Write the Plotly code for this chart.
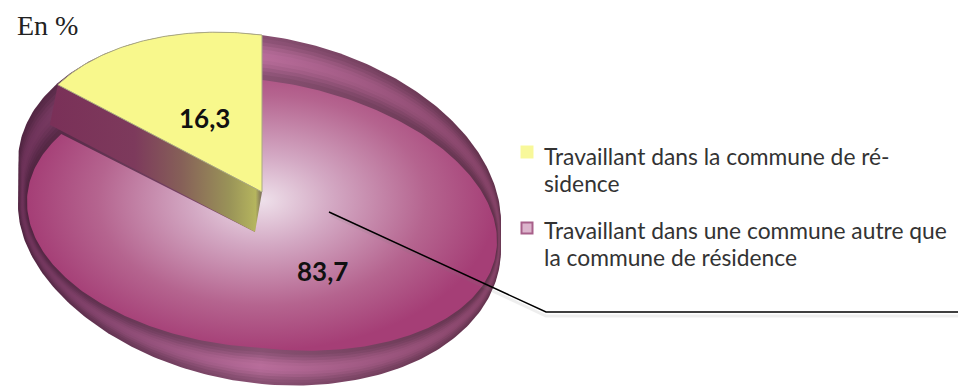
import numpy as np
import plotly.graph_objects as go

# ---- data ----
categories = ["Travaillant dans la commune de ré-<br>sidence",
              "Travaillant dans une commune autre que<br>la commune de résidence"]
values = [16.3, 83.7]
unit_label = "En %"
slice_colors = ["#f8f88c", "#a8447c"]

# ---- projection of the tilted disc onto the page (pixel scale) ----
W, H = 958, 386
CX, CY, UX, UY, VY = 262, 192, 239, 30, 157      # yellow rim
BASE_CY, BASE_UY = 227, 22                        # lower edge of the side wall
FCY, FUX, FVY = 214, 235, 134                     # purple face
FUY_RIGHT, FUY_LEFT = 27, 12                      # perspective skew of the face
WALL = (-7, 40)                                   # cut wall offset
yellow_deg = values[0] / sum(values) * 360


def rim(phi):
    p = np.radians(phi)
    return CX + UX * np.sin(p), CY + UY * np.sin(p) - VY * np.cos(p)


def base(phi):
    p = np.radians(phi)
    return CX + UX * np.sin(p), BASE_CY + BASE_UY * np.sin(p) - VY * np.cos(p)


def face(phi):
    p = np.radians(phi)
    s = np.sin(p)
    return CX + FUX * s, FCY + np.where(s > 0, FUY_RIGHT, FUY_LEFT) * s - FVY * np.cos(p)


def hex2(c):
    return "rgb(%d,%d,%d)" % tuple(int(max(0, min(255, v))) for v in c)


fig = go.Figure()


def poly(x, y, **kw):
    fig.add_trace(go.Scatter(x=list(x), y=list(y), mode="lines", fill="toself",
                             line=dict(width=0), hoverinfo="skip",
                             showlegend=False, **kw))


# --- nested side wall / bevel, from the outer silhouette to the purple face
phi = np.linspace(-180, 180, 361)
hx_a, hy_a = rim(phi)
hx_b, hy_b = base(phi)
s = np.sin(np.radians(phi))
hull_x = np.where(np.cos(np.radians(phi)) >= 0, hx_a, hx_b) - 5 * np.clip(-s, 0, 1) ** 6
hull_y = np.where(np.cos(np.radians(phi)) >= 0, hy_a, hy_b)
fx, fy = face(phi)
left, mid, right = np.array([96, 44, 78]), np.array([162, 96, 136]), np.array([116, 58, 90])
steps = np.linspace(0, 0.96, 13)
for t in steps:
    k = 0.84 + 0.30 * np.sin(np.pi * min(1, t / 0.9)) ** 1.5
    poly(hull_x + (fx - hull_x) * t, hull_y + (fy - hull_y) * t,
         fillgradient=dict(type="horizontal",
                           colorscale=[[0, hex2(left * k)], [0.5, hex2(mid * k)], [1, hex2(right * k)]]))

# --- purple face (its bright centre sits at the middle of the sector's extent)
phi_f = np.linspace(0, 360 - yellow_deg, 300)
ax, ay = face(phi_f)
tipx, tipy = CX + WALL[0], CY + WALL[1]
poly(np.r_[CX, ax, tipx, CX], np.r_[50, ay, tipy, 50],
     fillgradient=dict(type="radial",
                       colorscale=[[0, "#eee0ea"], [0.3, "#d3a8c3"], [0.7, "#b5648f"], [1, "#a53e76"]]))

# --- wall of the cut
ex, ey = rim(-yellow_deg)
poly([ex, CX, CX + WALL[0], ex + WALL[0] - 1, ex], [ey, CY, CY + WALL[1], ey + WALL[1], ey],
     fillgradient=dict(type="horizontal",
                       colorscale=[[0, "#7a3058"], [0.4, "#7d3a5c"], [0.62, "#866058"],
                                   [0.85, "#9a9458"], [0.97, "#b5b55e"], [1, "#77695b"]]))

# --- yellow slice
phi_y = np.linspace(-yellow_deg, 0, 80)
yx, yy = rim(phi_y)
fig.add_trace(go.Scatter(x=np.r_[CX, yx, CX], y=np.r_[CY, yy, CY], mode="lines", fill="toself",
                         fillcolor=slice_colors[0], line=dict(width=1, color="#a9a982"),
                         hoverinfo="skip", showlegend=False))

# --- leader line with its soft shadow
fig.add_trace(go.Scatter(x=[331, 546, 958], y=[215, 316, 316], mode="lines",
                         line=dict(color="rgba(120,120,120,0.13)", width=3), hoverinfo="skip", showlegend=False))
fig.add_trace(go.Scatter(x=[329, 546, 958], y=[212, 312, 312], mode="lines",
                         line=dict(color="#000000", width=1.5), hoverinfo="skip", showlegend=False))

# --- swatches
fig.add_trace(go.Scatter(x=[527], y=[152], mode="markers", hoverinfo="skip", showlegend=False,
                         marker=dict(symbol="square", size=13, color="#f8f89a", line=dict(width=0))))
fig.add_trace(go.Scatter(x=[527], y=[228], mode="markers", hoverinfo="skip", showlegend=False,
                         marker=dict(symbol="square", size=11, color="#dcb4cc",
                                     line=dict(width=2, color="#a8608a"))))

lab = dict(family="Lato", size=26, color="#111111", weight="bold")
leg = dict(family="Lato", size=22.8, color="#333333")
anns = [
    dict(x=15, y=25, text=unit_label, font=dict(family="Liberation Serif", size=28, color="#222222"), xanchor="left"),
    dict(x=204, y=118, text=f"{values[0]}".replace(".", ","), font=lab, xanchor="center"),
    dict(x=322, y=271, text=f"{values[1]}".replace(".", ","), font=lab, xanchor="center"),
]
line_y = [[156, 183], [230, 257]]
for cat, ys in zip(categories, line_y):
    for line, y in zip(cat.split("<br>"), ys):
        anns.append(dict(x=542, y=y, text=line, font=leg, xanchor="left", align="left"))
for a in anns:
    a.update(xref="x", yref="y", showarrow=False, yanchor="middle")

fig.update_layout(width=W, height=H, margin=dict(l=0, r=0, t=0, b=0), showlegend=False,
                  paper_bgcolor="white", plot_bgcolor="white", annotations=anns,
                  xaxis=dict(range=[0, W], visible=False, fixedrange=True),
                  yaxis=dict(range=[H, 0], visible=False, fixedrange=True))
fig.write_html("out.html", config=dict(displayModeBar=False),
               post_script="document.body.style.margin='0';document.documentElement.style.overflow='hidden';")
